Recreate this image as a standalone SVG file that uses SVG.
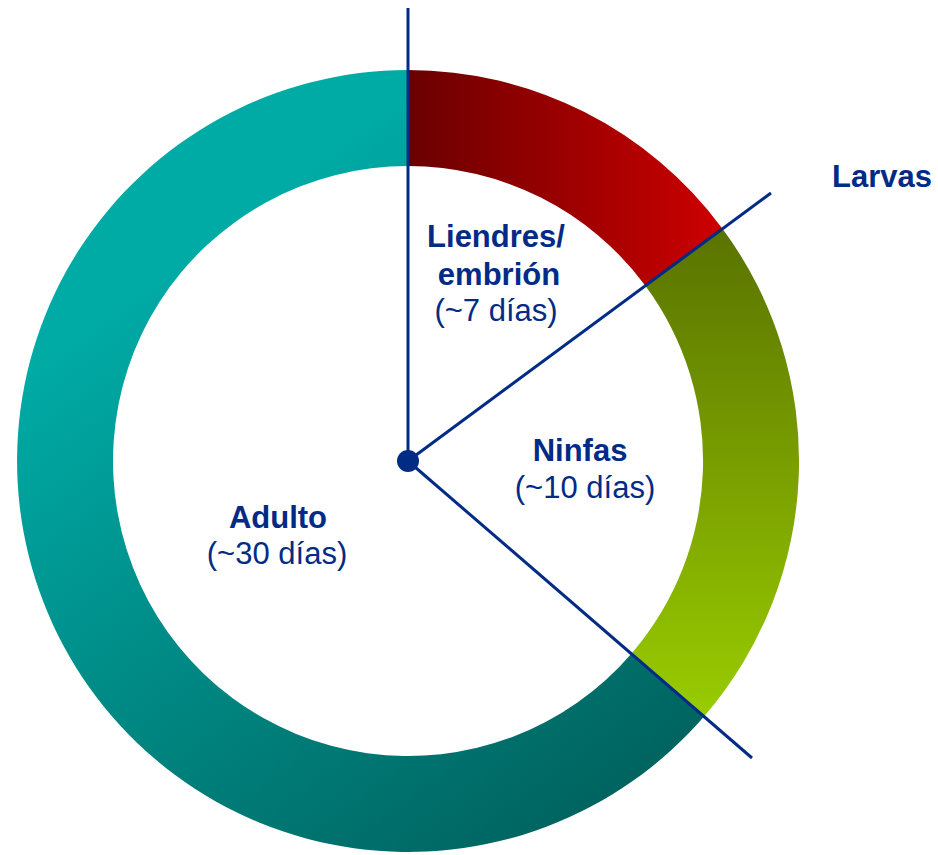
<svg xmlns="http://www.w3.org/2000/svg" width="938" height="855" viewBox="0 0 938 855">
<defs>
<linearGradient id="gRed" gradientUnits="userSpaceOnUse" x1="408" y1="0" x2="720" y2="0">
<stop offset="0" stop-color="#6a0000"/><stop offset="1" stop-color="#cc0000"/>
</linearGradient>
<linearGradient id="gGreen" gradientUnits="userSpaceOnUse" x1="0" y1="230" x2="0" y2="715">
<stop offset="0" stop-color="#5a7300"/><stop offset="1" stop-color="#99cc00"/>
</linearGradient>
<linearGradient id="gTeal" gradientUnits="userSpaceOnUse" x1="220" y1="220" x2="650" y2="800">
<stop offset="0" stop-color="#00aba6"/><stop offset="1" stop-color="#00615d"/>
</linearGradient>
<style>
.lbl{font-family:"Liberation Sans",Arial,sans-serif;font-size:31px;fill:#022b85;text-anchor:middle}
.b{font-weight:bold}
.ln{stroke:#022b85;stroke-width:3;fill:none}
</style>
</defs>
<g id="adulto">
<path d="M704.9,715.5 A391,391 0 1 1 408,70 L408,166 A295,295 0 1 0 632,653 Z" fill="url(#gTeal)"/>
<text class="lbl b" x="278" y="528">Adulto</text>
<text class="lbl" x="277" y="564">(~30 días)</text>
</g>
<g id="liendres">
<path d="M408,70 A391,391 0 0 1 722.3,228.4 L645.2,285.5 A295,295 0 0 0 408,166 Z" fill="url(#gRed)"/>
<text class="lbl b" x="496" y="247">Liendres/</text>
<text class="lbl b" x="499" y="285">embrión</text>
<text class="lbl" x="496" y="321">(~7 días)</text>
</g>
<g id="ninfas">
<path d="M722.3,228.4 A391,391 0 0 1 704.9,715.5 L632,653 A295,295 0 0 0 645.2,285.5 Z" fill="url(#gGreen)"/>
<text class="lbl b" x="580" y="461">Ninfas</text>
<text class="lbl" x="585" y="498">(~10 días)</text>
</g>
<g id="larvas">
<text class="lbl b" x="882" y="187">Larvas</text>
</g>
<g id="connectors">
<line class="ln" x1="408" y1="8" x2="408" y2="461"/>
<line class="ln" x1="408" y1="461" x2="771" y2="193"/>
<line class="ln" x1="408" y1="461" x2="752" y2="758"/>
<circle cx="408" cy="461" r="11" fill="#022b85"/>
</g>
</svg>
